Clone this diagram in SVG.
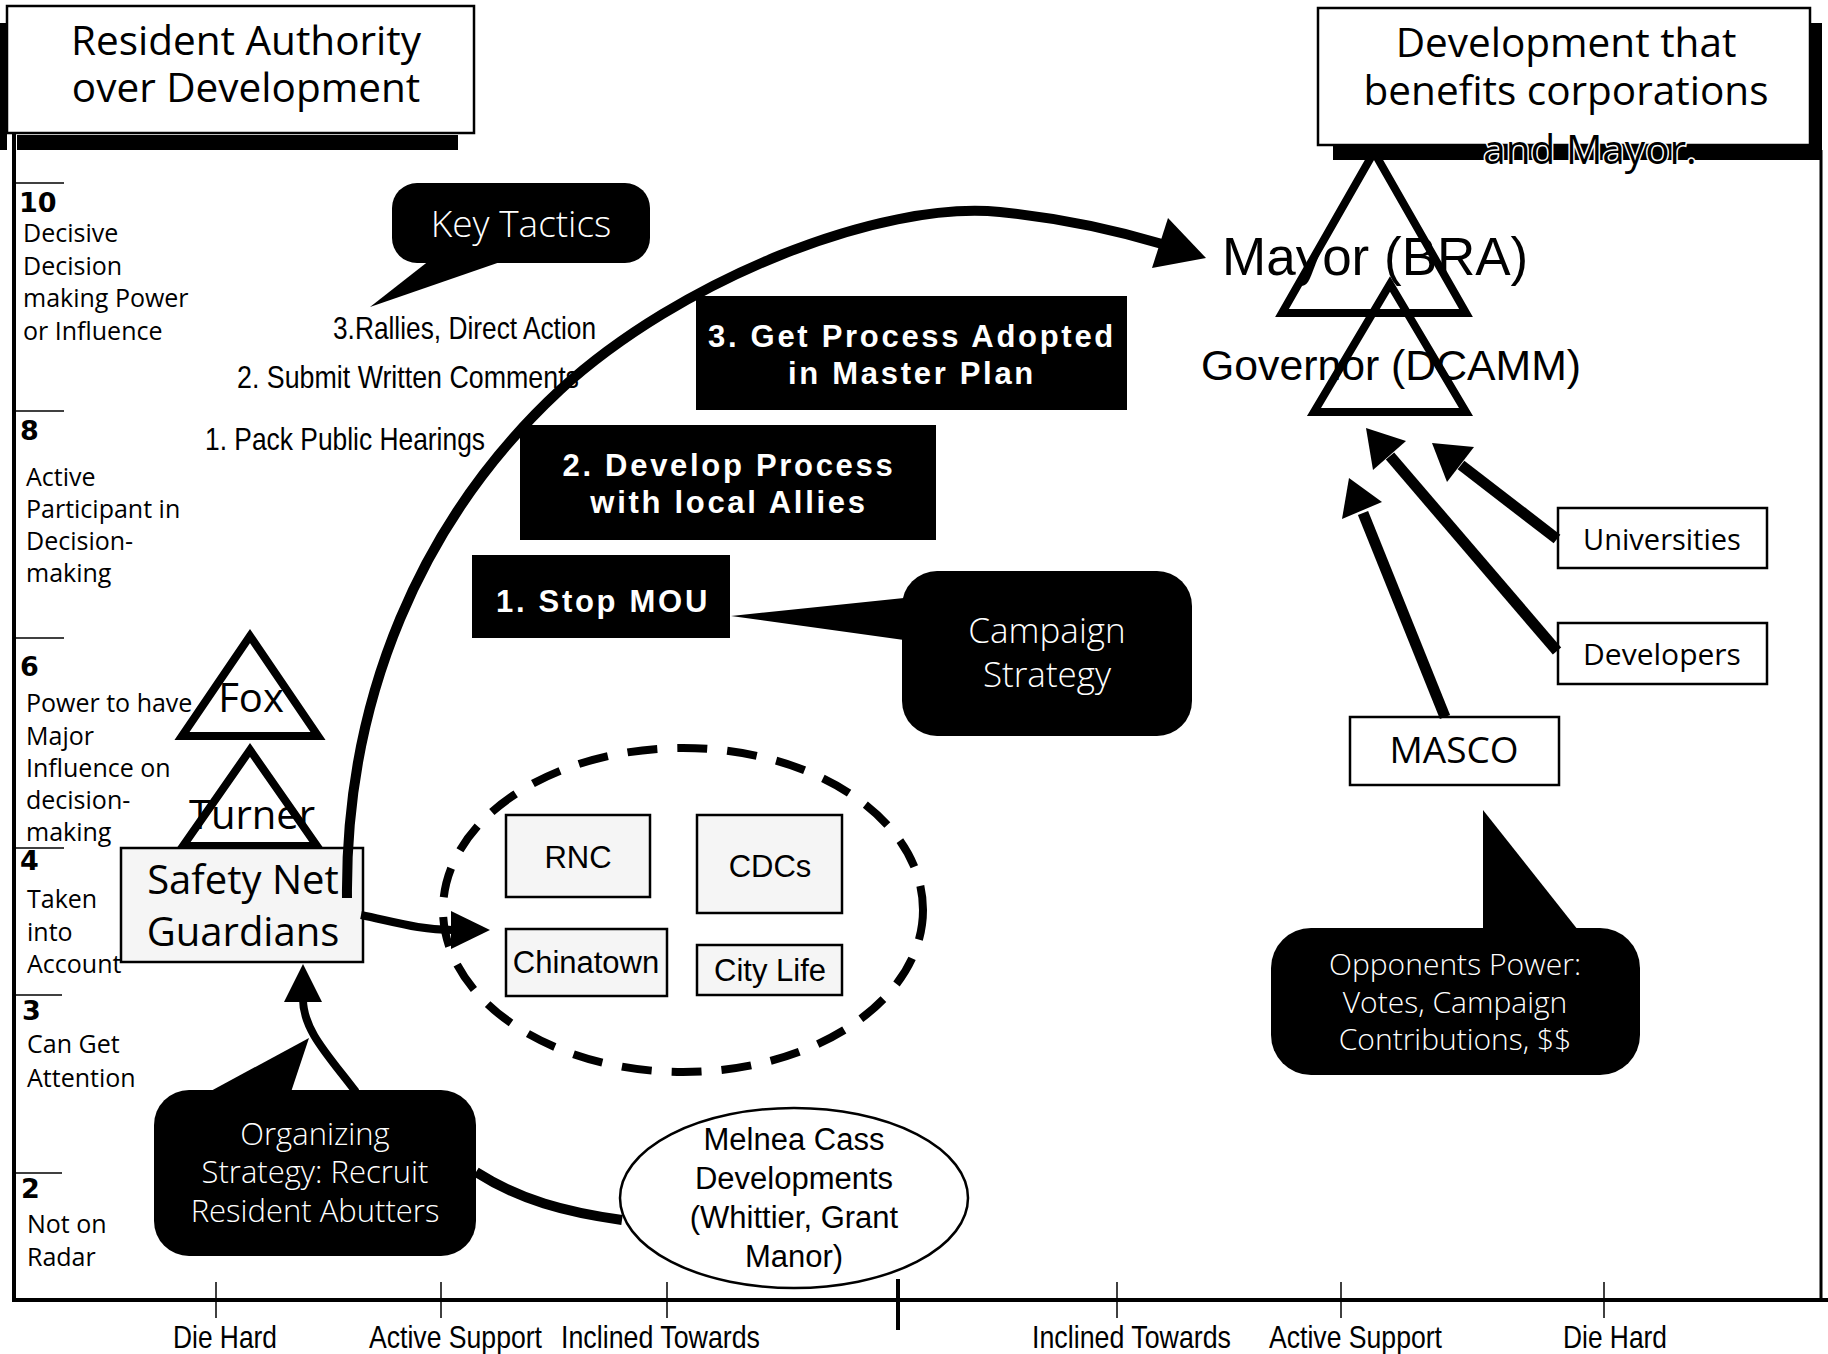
<svg xmlns="http://www.w3.org/2000/svg" width="1828" height="1354" viewBox="0 0 1828 1354">
<defs>
<style>
.hdr{font-family:"Open Sans","DejaVu Sans",sans-serif;font-size:40.5px;fill:#000;text-anchor:middle}
.ax{font-family:"Open Sans","DejaVu Sans",sans-serif;font-size:25px;fill:#000}
.axn{font-family:"DejaVu Sans",sans-serif;font-weight:bold;font-size:27px;fill:#000}
.nar{font-family:"Liberation Sans",Arial,sans-serif;font-size:32px;fill:#000}
.blk{font-family:"Liberation Sans",Arial,sans-serif;font-weight:bold;font-size:31px;letter-spacing:2.7px;fill:#fff;text-anchor:middle}
.wt{font-family:"Open Sans","DejaVu Sans",sans-serif;font-weight:300;fill:#fff;text-anchor:middle}
.bx{font-family:"Liberation Sans",Arial,sans-serif;font-size:31px;fill:#000;text-anchor:middle}
.ob{font-family:"Open Sans","DejaVu Sans",sans-serif;fill:#000;text-anchor:middle}
.big{font-family:"Liberation Sans",Arial,sans-serif;fill:#000}
.wbox{fill:#fff;stroke:#000;stroke-width:2.5}
.gbox{fill:#f5f5f5;stroke:#000;stroke-width:2.5}
.tri{fill:none;stroke:#000;stroke-width:8;stroke-linejoin:miter}
.conn{fill:none;stroke:#000;stroke-linecap:butt}
.ah{fill:#000}
.tick{stroke:#000;stroke-width:1.5}
</style>
</defs>
<rect width="1828" height="1354" fill="#fff"/>

<!-- frame / axes -->
<g id="frame">
<line x1="14" y1="55" x2="14" y2="1302" stroke="#000" stroke-width="4"/>
<line x1="12" y1="1300" x2="1828" y2="1300" stroke="#000" stroke-width="4"/>
<line x1="1821" y1="150" x2="1821" y2="1300" stroke="#000" stroke-width="3"/>
<line x1="14" y1="183" x2="64" y2="183" stroke="#000" stroke-width="1.5"/>
<line x1="14" y1="411" x2="64" y2="411" stroke="#000" stroke-width="1.5"/>
<line x1="14" y1="638" x2="64" y2="638" stroke="#000" stroke-width="1.5"/>
<line x1="14" y1="848" x2="64" y2="848" stroke="#000" stroke-width="1.5"/>
<line x1="14" y1="995" x2="62" y2="995" stroke="#000" stroke-width="1.5"/>
<line x1="14" y1="1173" x2="62" y2="1173" stroke="#000" stroke-width="1.5"/>
<line class="tick" x1="216" y1="1282" x2="216" y2="1318"/>
<line class="tick" x1="441" y1="1282" x2="441" y2="1318"/>
<line class="tick" x1="667" y1="1282" x2="667" y2="1318"/>
<line x1="898" y1="1279" x2="898" y2="1330" stroke="#000" stroke-width="4"/>
<line class="tick" x1="1117" y1="1282" x2="1117" y2="1318"/>
<line class="tick" x1="1341" y1="1282" x2="1341" y2="1318"/>
<line class="tick" x1="1604" y1="1282" x2="1604" y2="1318"/>
<text class="nar" x="173" y="1348" textLength="104" lengthAdjust="spacingAndGlyphs">Die Hard</text>
<text class="nar" x="369" y="1348" textLength="173" lengthAdjust="spacingAndGlyphs">Active Support</text>
<text class="nar" x="561" y="1348" textLength="199" lengthAdjust="spacingAndGlyphs">Inclined Towards</text>
<text class="nar" x="1032" y="1348" textLength="199" lengthAdjust="spacingAndGlyphs">Inclined Towards</text>
<text class="nar" x="1269" y="1348" textLength="173" lengthAdjust="spacingAndGlyphs">Active Support</text>
<text class="nar" x="1563" y="1348" textLength="104" lengthAdjust="spacingAndGlyphs">Die Hard</text>
</g>

<g id="axis-labels">
<text class="axn" x="19" y="212">10</text>
<text class="ax" x="23" y="242">Decisive</text>
<text class="ax" x="23" y="275">Decision</text>
<text class="ax" x="23" y="307">making Power</text>
<text class="ax" x="23" y="340">or Influence</text>
<text class="axn" x="20" y="440">8</text>
<text class="ax" x="26" y="486">Active</text>
<text class="ax" x="26" y="518">Participant in</text>
<text class="ax" x="26" y="550">Decision-</text>
<text class="ax" x="26" y="582">making</text>
<text class="axn" x="20" y="676">6</text>
<text class="ax" x="26" y="712">Power to have</text>
<text class="ax" x="26" y="745">Major</text>
<text class="ax" x="26" y="777">Influence on</text>
<text class="ax" x="26" y="809">decision-</text>
<text class="ax" x="26" y="841">making</text>
<text class="axn" x="20" y="870">4</text>
<text class="ax" x="27" y="908">Taken</text>
<text class="ax" x="27" y="941">into</text>
<text class="ax" x="27" y="973">Account</text>
<text class="axn" x="22" y="1020">3</text>
<text class="ax" x="27" y="1053">Can Get</text>
<text class="ax" x="27" y="1087">Attention</text>
<text class="axn" x="21" y="1198">2</text>
<text class="ax" x="27" y="1233">Not on</text>
<text class="ax" x="27" y="1266">Radar</text>
</g>

<!-- headers -->
<g id="header-left">
<rect x="0" y="23" width="7" height="127" fill="#000"/>
<rect x="17" y="135" width="441" height="15" fill="#000"/>
<rect class="wbox" x="7" y="6" width="467" height="127" stroke-width="2"/>
<text class="hdr" x="246" y="55">Resident Authority</text>
<text class="hdr" x="246" y="102">over Development</text>
</g>

<!-- triangles behind right header -->
<g id="mayor">
<polygon class="tri" points="1374,152 1282,313 1466,313"/>
<text class="big" x="1222" y="275" font-size="53">Mayor (BRA)</text>
</g>
<g id="governor">
<polygon class="tri" points="1390,284 1314,412 1466,412"/>
<text class="big" x="1201" y="380" font-size="43" textLength="380" lengthAdjust="spacingAndGlyphs">Governor (DCAMM)</text>
</g>

<g id="header-right">
<rect x="1333" y="23" width="489" height="137" fill="#000"/>
<rect class="wbox" x="1318" y="8" width="492" height="137" stroke-width="2"/>
<text class="hdr" x="1566" y="57">Development that</text>
<text class="hdr" x="1566" y="105">benefits corporations</text>
<text class="hdr" x="1590" y="164" stroke="#fff" stroke-width="3" paint-order="stroke">and Mayor.</text>
</g>

<!-- left side nodes -->
<g id="fox">
<polygon class="tri" points="250,636 182,736 318,736"/>
<text class="ob" x="251" y="712" font-size="40">Fox</text>
</g>
<g id="turner">
<polygon class="tri" points="250,750 183,846 317,846"/>
<text class="ob" x="252" y="829" font-size="40">Turner</text>
</g>
<g id="safety-net">
<rect class="gbox" x="121" y="848" width="242" height="114"/>
<text class="ob" x="243" y="894" font-size="40">Safety Net</text>
<text class="ob" x="243" y="946" font-size="40">Guardians</text>
</g>

<g id="key-tactics">
<rect x="392" y="183" width="258" height="80" rx="25" fill="#000"/>
<polygon points="430,260 506,260 370,307" fill="#000"/>
<text class="wt" x="521" y="237" font-size="37">Key Tactics</text>
</g>
<g id="tactics-list">
<text class="nar" x="333" y="339" textLength="263" lengthAdjust="spacingAndGlyphs">3.Rallies, Direct Action</text>
<text class="nar" x="237" y="388" textLength="342" lengthAdjust="spacingAndGlyphs">2. Submit Written Comments</text>
<text class="nar" x="205" y="450" textLength="280" lengthAdjust="spacingAndGlyphs">1. Pack Public Hearings</text>
</g>

<g id="step3">
<rect x="696" y="296" width="431" height="114" fill="#000"/>
<text class="blk" x="912" y="347">3. Get Process Adopted</text>
<text class="blk" x="912" y="384">in Master Plan</text>
</g>
<g id="step2">
<rect x="520" y="425" width="416" height="115" fill="#000"/>
<text class="blk" x="729" y="476">2. Develop Process</text>
<text class="blk" x="729" y="513">with local Allies</text>
</g>
<g id="step1">
<rect x="472" y="555" width="258" height="83" fill="#000"/>
<text class="blk" x="603" y="612">1. Stop MOU</text>
</g>
<g id="campaign-strategy">
<rect x="902" y="571" width="290" height="165" rx="35" fill="#000"/>
<polygon points="904,598 904,640 731,616" fill="#000"/>
<text class="wt" x="1047" y="643" font-size="35">Campaign</text>
<text class="wt" x="1047" y="687" font-size="35">Strategy</text>
</g>

<g id="allies">
<ellipse cx="683" cy="910" rx="240" ry="162" fill="none" stroke="#000" stroke-width="8" stroke-dasharray="30 20"/>
</g>
<g id="rnc">
<rect class="gbox" x="506" y="815" width="144" height="82"/>
<text class="bx" x="578" y="868">RNC</text>
</g>
<g id="cdcs">
<rect class="gbox" x="697" y="815" width="145" height="98"/>
<text class="bx" x="770" y="877">CDCs</text>
</g>
<g id="chinatown">
<rect class="gbox" x="506" y="929" width="161" height="67"/>
<text class="bx" x="586" y="973">Chinatown</text>
</g>
<g id="city-life">
<rect class="gbox" x="697" y="945" width="145" height="50"/>
<text class="bx" x="770" y="981">City Life</text>
</g>

<g id="organizing-strategy">
<rect x="154" y="1090" width="322" height="166" rx="35" fill="#000"/>
<polygon points="209,1092 291,1092 309,1038" fill="#000"/>
<text class="wt" x="315" y="1145" font-size="31">Organizing</text>
<text class="wt" x="315" y="1183" font-size="31">Strategy: Recruit</text>
<text class="wt" x="315" y="1222" font-size="31">Resident Abutters</text>
</g>
<g id="melnea-cass">
<ellipse cx="794" cy="1198" rx="174" ry="90" fill="#fff" stroke="#000" stroke-width="2.5"/>
<text class="bx" x="794" y="1150">Melnea Cass</text>
<text class="bx" x="794" y="1189">Developments</text>
<text class="bx" x="794" y="1228">(Whittier, Grant</text>
<text class="bx" x="794" y="1267">Manor)</text>
</g>

<!-- right side nodes -->
<g id="universities">
<rect class="wbox" x="1558" y="508" width="209" height="60"/>
<text class="ob" x="1662" y="550" font-size="29">Universities</text>
</g>
<g id="developers">
<rect class="wbox" x="1558" y="623" width="209" height="61"/>
<text class="ob" x="1662" y="665" font-size="30">Developers</text>
</g>
<g id="masco">
<rect class="wbox" x="1350" y="717" width="209" height="68"/>
<text class="ob" x="1454" y="763" font-size="37">MASCO</text>
</g>
<g id="opponents-power">
<rect x="1271" y="928" width="369" height="147" rx="40" fill="#000"/>
<polygon points="1483,930 1483,810 1578,930" fill="#000"/>
<text class="wt" x="1455" y="975" font-size="30">Opponents Power:</text>
<text class="wt" x="1455" y="1013" font-size="30">Votes, Campaign</text>
<text class="wt" x="1455" y="1050" font-size="30">Contributions, $$</text>
</g>

<!-- connectors -->
<g id="connectors">
<path class="conn" stroke-width="10" d="M347,898 C345,700 420,520 560,390 C680,280 880,200 1000,212 C1060,218 1115,230 1162,244"/>
<polygon class="ah" points="1206,258 1168,218 1152,268"/>
<path class="conn" stroke-width="8" d="M361,915 C395,922 420,930 453,930"/>
<polygon class="ah" points="490,930 451,911 451,949"/>
<path class="conn" stroke-width="8" d="M356,1092 C328,1055 303,1030 303,999"/>
<polygon class="ah" points="303,964 284,1002 322,1002"/>
<path class="conn" stroke-width="10" d="M476,1172 C520,1200 565,1212 622,1220"/>
<line class="conn" stroke-width="11" x1="1445" y1="717" x2="1363" y2="513"/>
<polygon class="ah" points="1349,478 1382,502 1342,519"/>
<line class="conn" stroke-width="11" x1="1557" y1="651" x2="1390" y2="456"/>
<polygon class="ah" points="1366,428 1406,441 1373,470"/>
<line class="conn" stroke-width="11" x1="1557" y1="539" x2="1461" y2="465"/>
<polygon class="ah" points="1432,443 1474,447 1447,482"/>
</g>
</svg>
